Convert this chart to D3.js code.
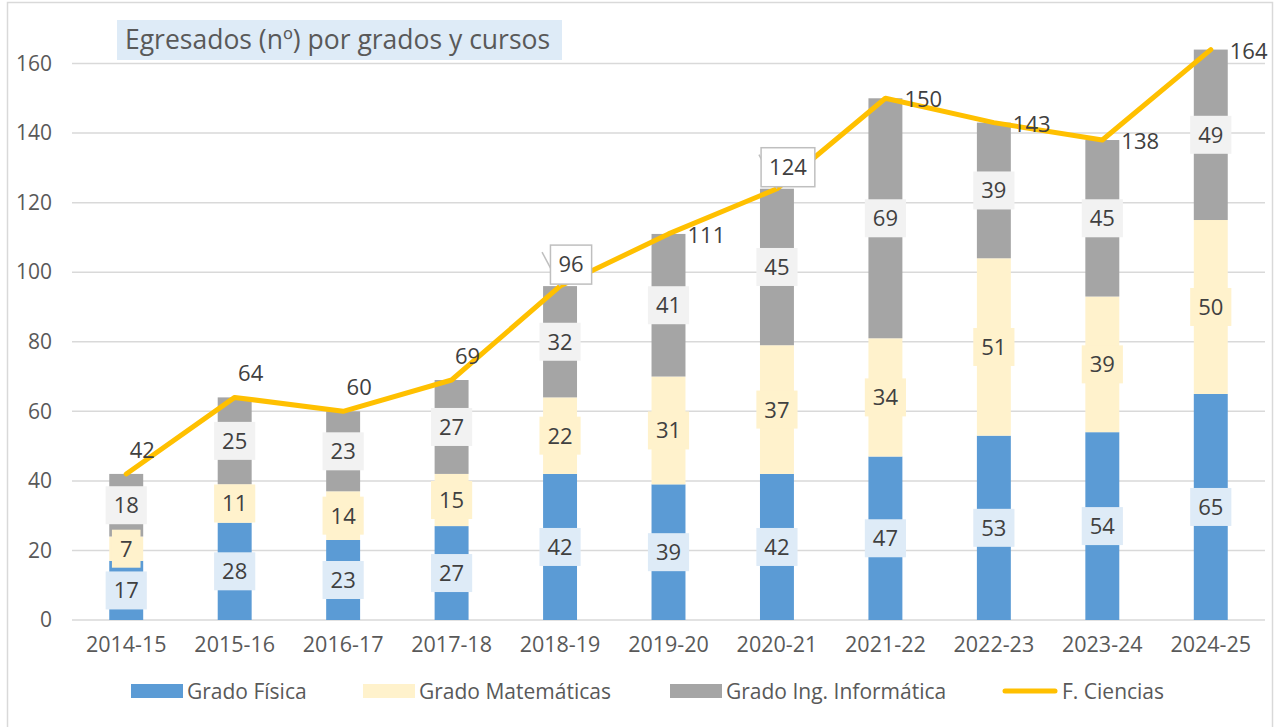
<!DOCTYPE html>
<html>
<head>
<meta charset="utf-8">
<script src="https://cdn.jsdelivr.net/npm/d3@7"></script>
<style>
  body { margin: 0; background: #fff; }
  text { font-family: "Open Sans", sans-serif; }
</style>
</head>
<body>
<script>
// chart data
var cursos = ["2014-15","2015-16","2016-17","2017-18","2018-19","2019-20","2020-21","2021-22","2022-23","2023-24","2024-25"];
var fisica = [17,28,23,27,42,39,42,47,53,54,65];
var matematicas = [7,11,14,15,22,31,37,34,51,39,50];
var informatica = [18,25,23,27,32,41,45,69,39,45,49];
var ciencias = [42,64,60,69,96,111,124,150,143,138,164];
var yTicks = [0,20,40,60,80,100,120,140,160];
var seriesNames = ["Grado Física","Grado Matemáticas","Grado Ing. Informática","F. Ciencias"];
// how each total label sits next to the line
var totalLabelPos = ["top","top","top","top","callout","right","callout","right","right","right","right"];

var W = 1279, H = 727;
var FONT = "Open Sans, sans-serif";

var svg = d3.select("body").append("svg")
    .attr("width", W)
    .attr("height", H);

svg.append("rect")
    .attr("x", 7.5).attr("y", 2.5)
    .attr("width", 1265).attr("height", 730)
    .attr("fill", "#fff")
    .attr("stroke", "#d9d9d9")
    .attr("stroke-width", 1.5);

var x = d3.scaleBand()
    .domain(cursos)
    .range([72, 1265])
    .paddingInner(0.687)
    .paddingOuter(0.3435);

var y = d3.scaleLinear()
    .domain([0, 160])
    .range([620, 63.5]);

// gridlines
svg.append("g")
    .selectAll("line")
    .data(yTicks)
    .join("line")
    .attr("x1", 72).attr("x2", 1265)
    .attr("y1", function(d) { return y(d); })
    .attr("y2", function(d) { return y(d); })
    .attr("stroke", "#d9d9d9")
    .attr("stroke-width", 1.5);

var yAxis = d3.axisLeft(y).tickValues(yTicks).tickSize(0).tickPadding(0);
svg.append("g")
    .attr("class", "y axis")
    .attr("transform", "translate(52,0)")
    .call(yAxis)
    .call(function(g) { g.select(".domain").remove(); })
    .selectAll("text")
    .attr("font-size", 21)
    .attr("fill", "#595959")
    .attr("font-family", FONT);

var xAxis = d3.axisBottom(x).tickSize(0).tickPadding(0);
svg.append("g")
    .attr("class", "x axis")
    .attr("transform", "translate(0,637)")
    .call(xAxis)
    .call(function(g) { g.select(".domain").remove(); })
    .selectAll("text")
    .attr("font-size", 21.5)
    .attr("fill", "#595959")
    .attr("font-family", FONT);

// stacked bars
var rows = cursos.map(function(c, i) {
    return { curso: c, fisica: fisica[i], matematicas: matematicas[i], informatica: informatica[i] };
});
var keys = ["fisica","matematicas","informatica"];
var colors = { fisica: "#5b9bd5", matematicas: "#fff2cc", informatica: "#a5a5a5" };
var labelBg = { fisica: "#deebf7", matematicas: "#fff2cc", informatica: "#f2f2f2" };
var stack = d3.stack().keys(keys)(rows);

var layers = svg.append("g").selectAll("g")
    .data(stack)
    .join("g")
    .attr("fill", function(d) { return colors[d.key]; });

layers.selectAll("rect")
    .data(function(d) { return d; })
    .join("rect")
    .attr("x", function(d) { return x(d.data.curso); })
    .attr("width", x.bandwidth())
    .attr("y", function(d) { return y(d[1]); })
    .attr("height", function(d) { return y(d[0]) - y(d[1]); });

// segment labels
var segLabels = svg.append("g");
stack.forEach(function(layer) {
    layer.forEach(function(d) {
        var v = d[1] - d[0];
        var cx = x(d.data.curso) + x.bandwidth() / 2;
        var cy = y((d[0] + d[1]) / 2);
        var g = segLabels.append("g");
        var t = g.append("text")
            .attr("x", cx).attr("y", cy + 8)
            .attr("text-anchor", "middle")
            .attr("font-size", 22)
            .attr("fill", "#404040")
            .text(v);
        var w = t.node().getComputedTextLength() + 16;
        g.insert("rect", "text")
            .attr("x", cx - w / 2).attr("y", cy - 19)
            .attr("width", w).attr("height", 38)
            .attr("fill", labelBg[layer.key]);
    });
});

// total line
var line = d3.line()
    .x(function(d, i) { return x(cursos[i]) + x.bandwidth() / 2; })
    .y(function(d) { return y(d); });

svg.append("path")
    .datum(ciencias)
    .attr("d", line)
    .attr("fill", "none")
    .attr("stroke", "#ffc000")
    .attr("stroke-width", 5)
    .attr("stroke-linejoin", "round")
    .attr("stroke-linecap", "round");

// total labels
var totLabels = svg.append("g");
ciencias.forEach(function(v, i) {
    var px = x(cursos[i]) + x.bandwidth() / 2;
    var py = y(v);
    var pos = totalLabelPos[i];
    if (pos === "top") {
        totLabels.append("text")
            .attr("x", px + 16).attr("y", py - 16)
            .attr("text-anchor", "middle")
            .attr("font-size", 22).attr("fill", "#404040")
            .text(v);
    } else if (pos === "right") {
        totLabels.append("text")
            .attr("x", px + 19).attr("y", py + 9)
            .attr("font-size", 22).attr("fill", "#404040")
            .text(v);
    } else {
        var g = totLabels.append("g");
        g.append("line")
            .attr("x1", px - 18).attr("y1", py - 34)
            .attr("x2", px).attr("y2", py)
            .attr("stroke", "#bfbfbf").attr("stroke-width", 1.5);
        var t = g.append("text")
            .attr("x", px + 11).attr("y", py - 14)
            .attr("text-anchor", "middle")
            .attr("font-size", 22).attr("fill", "#404040")
            .text(v);
        var w = t.node().getComputedTextLength() + 16;
        g.insert("rect", "text")
            .attr("x", px + 11 - w / 2).attr("y", py - 41)
            .attr("width", w).attr("height", 39)
            .attr("fill", "#fff")
            .attr("stroke", "#bfbfbf").attr("stroke-width", 1.5);
    }
});

// title
svg.append("rect")
    .attr("x", 117).attr("y", 20)
    .attr("width", 445).attr("height", 40)
    .attr("fill", "#deebf7");
svg.append("text")
    .attr("x", 125).attr("y", 49)
    .attr("font-size", 26.5)
    .attr("fill", "#595959")
    .text("Egresados (nº) por grados y cursos");

// legend
var legendX = [131, 363, 670, 1002];
var legendColors = ["#5b9bd5", "#fff2cc", "#a5a5a5", "#ffc000"];
var legend = svg.append("g");
seriesNames.forEach(function(name, i) {
    if (i < 3) {
        legend.append("rect")
            .attr("x", legendX[i]).attr("y", 684)
            .attr("width", 52).attr("height", 14)
            .attr("fill", legendColors[i]);
    } else {
        legend.append("line")
            .attr("x1", legendX[i] + 3).attr("x2", legendX[i] + 53)
            .attr("y1", 691).attr("y2", 691)
            .attr("stroke", legendColors[i])
            .attr("stroke-width", 5)
            .attr("stroke-linecap", "round");
    }
    legend.append("text")
        .attr("x", legendX[i] + (i < 3 ? 56 : 60)).attr("y", 699)
        .attr("font-size", 21)
        .attr("fill", "#595959")
        .text(name);
});
</script>
</body>
</html>
